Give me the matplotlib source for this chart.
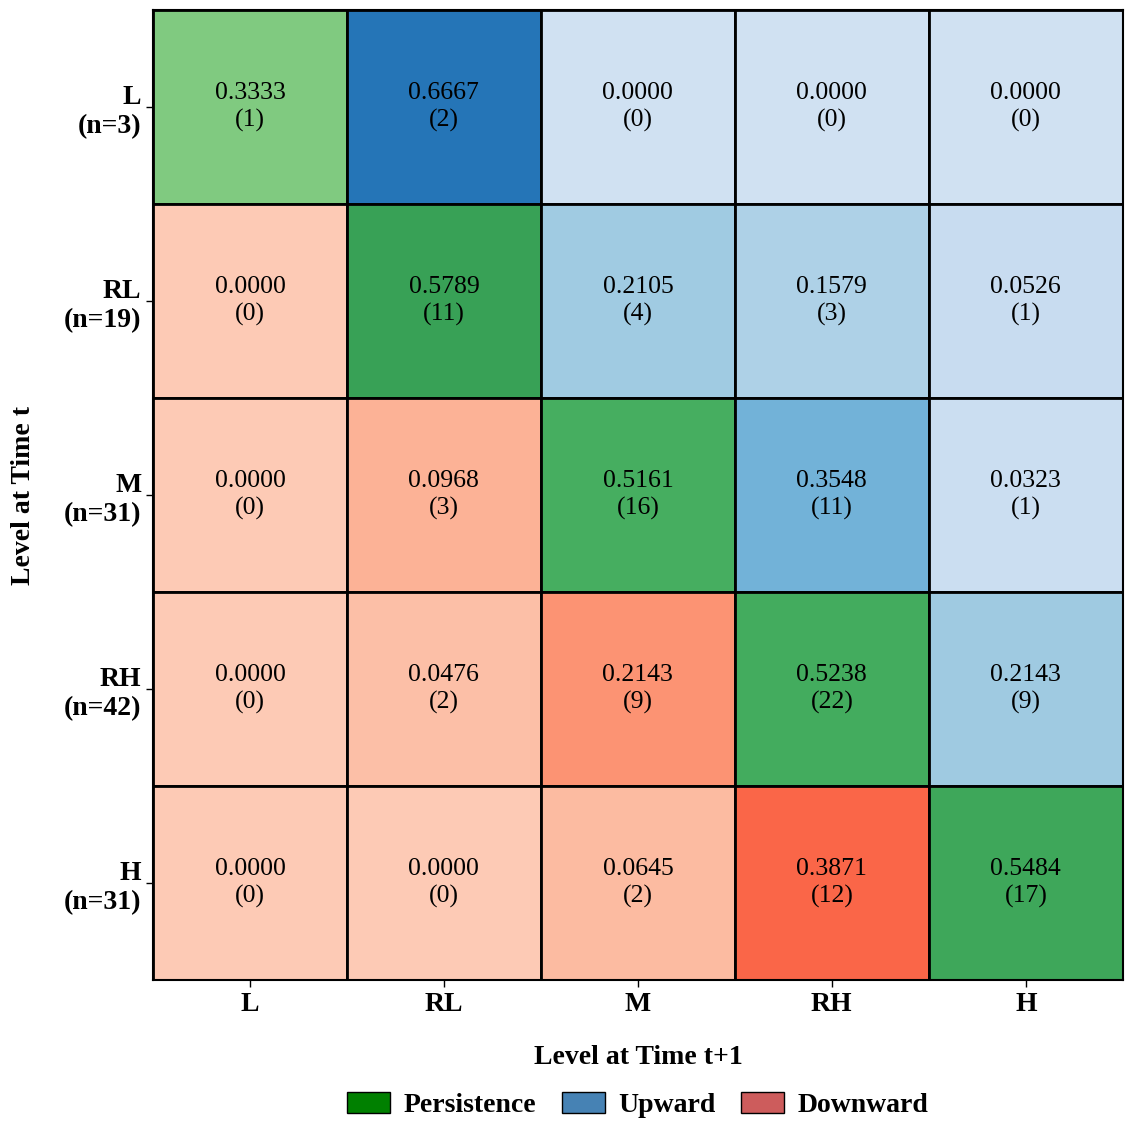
import numpy as np
from matplotlib import pyplot as plt
from matplotlib.patches import Patch

plt.rcParams['font.family'] = ['Liberation Serif', 'DejaVu Serif']

levels = ["L", "RL", "M", "RH", "H"]
row_n = [3, 19, 31, 42, 31]
counts = np.array([
    [1, 2, 0, 0, 0],
    [0, 11, 4, 3, 1],
    [0, 3, 16, 11, 1],
    [0, 2, 9, 22, 9],
    [0, 0, 2, 12, 17],
])
probs = counts / np.array(row_n)[:, None]

fig = plt.figure(figsize=(11.33, 11.29), dpi=100)
ax = fig.add_axes([0.135, 0.132, 0.856, 0.859])

greens = plt.get_cmap("Greens")
blues = plt.get_cmap("Blues")
reds = plt.get_cmap("Reds")

k = len(levels)
for i in range(k):
    for j in range(k):
        p = probs[i, j]
        shade = 0.2 + 0.8 * p
        if i == j:
            color = greens(shade)
        elif j > i:
            color = blues(shade)
        else:
            color = reds(shade)
        ax.add_patch(plt.Rectangle((j, i), 1, 1, facecolor=color,
                                   edgecolor="black", linewidth=2))
        ax.text(j + 0.5, i + 0.5, f"{p:.4f}\n({counts[i, j]})",
                ha="center", va="center", fontsize=18.5, linespacing=1.25)

ax.set_xlim(0, k)
ax.set_ylim(k, 0)
ax.set_xticks(np.arange(k) + 0.5)
ax.set_xticklabels(levels, fontsize=20, fontweight="bold")
ax.set_yticks(np.arange(k) + 0.5)
ax.set_yticklabels([f"{lv}\n(n={n})" for lv, n in zip(levels, row_n)],
                   fontsize=20, fontweight="bold", linespacing=1.2)
ax.tick_params(length=5, width=1)
ax.set_xlabel("Level at Time t+1", fontsize=20, fontweight="bold", labelpad=20)
ax.set_ylabel("Level at Time t", fontsize=20, fontweight="bold", labelpad=20)
for s in ax.spines.values():
    s.set_linewidth(1.5)

handles = [
    Patch(facecolor="green", edgecolor="black", label="Persistence"),
    Patch(facecolor="steelblue", edgecolor="black", label="Upward"),
    Patch(facecolor="indianred", edgecolor="black", label="Downward"),
]
leg = fig.legend(handles=handles, loc="center", bbox_to_anchor=(0.563, 0.021),
                 ncol=3, frameon=False, prop={"size": 20, "weight": "bold"},
                 handlelength=1.55, handleheight=0.75, handletextpad=0.5,
                 columnspacing=0.9)

fig.savefig("out.png", dpi=100)
